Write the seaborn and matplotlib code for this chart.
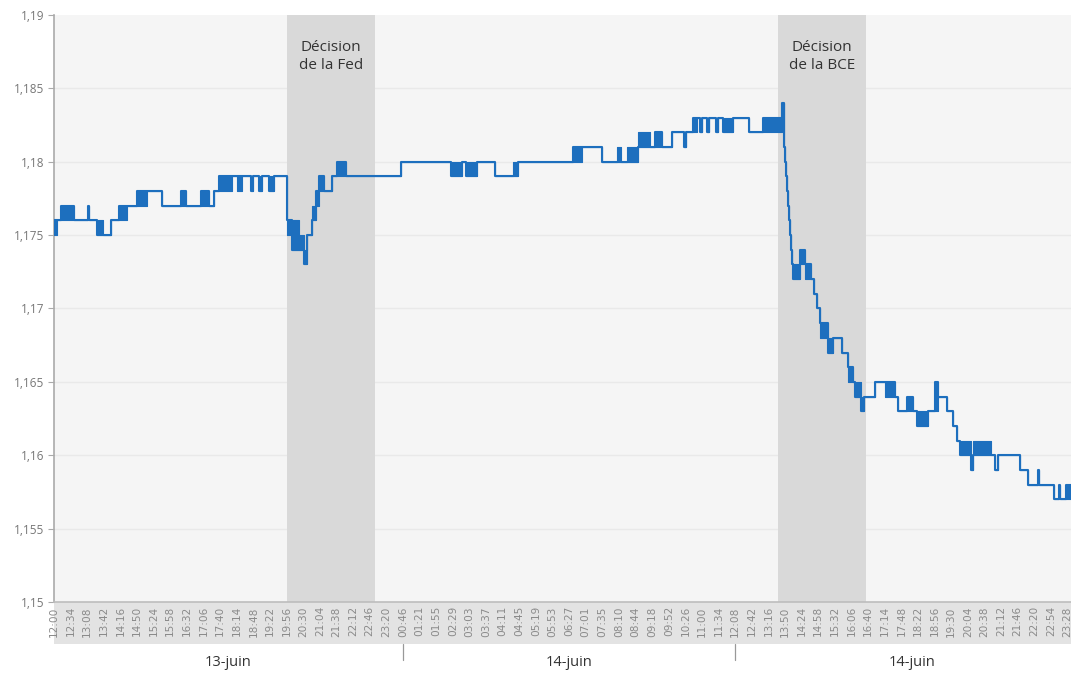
import numpy as np
import pandas as pd
import matplotlib
matplotlib.use("Agg")
import matplotlib.pyplot as plt
import seaborn as sns

# ---------------- data ----------------
# step segments: start (minute index on the categorical time axis), level, other level reached (flicker)
seg_start = [0, 6, 14, 41, 70, 72, 88, 100, 117, 133, 150, 170, 190, 221, 260, 270, 301, 317, 328, 338,
             365, 375, 385, 403, 408, 420, 426, 440, 451, 477, 487, 502, 512, 518, 528, 537, 543, 553, 569, 580,
             598, 711, 813, 834, 844, 866, 903, 940, 950, 1061, 1081, 1122, 1151, 1161, 1172, 1194, 1219, 1229,
             1245, 1264, 1290, 1293, 1307, 1315, 1321, 1325, 1337, 1341, 1354, 1358, 1368, 1389, 1423, 1450,
             1489, 1493, 1495, 1497, 1499, 1501, 1504, 1506, 1509, 1511, 1513, 1526, 1536, 1550, 1556, 1561,
             1567, 1583, 1593, 1612, 1624, 1634, 1640, 1652, 1658, 1679, 1700, 1720, 1726, 1745, 1757, 1765,
             1788, 1802, 1808, 1827, 1839, 1847, 1853, 1876, 1880, 1917, 1925, 1931, 1976, 1993, 2013, 2016,
             2046, 2056, 2059, 2071]
seg_level = [1.176, 1.176, 1.177, 1.176, 1.177, 1.176, 1.175, 1.175, 1.176, 1.177, 1.177, 1.178, 1.178, 1.177,
             1.178, 1.177, 1.178, 1.177, 1.178, 1.179, 1.179, 1.179, 1.179, 1.178, 1.179, 1.178, 1.179, 1.178,
             1.179, 1.176, 1.174, 1.174, 1.173, 1.175, 1.176, 1.178, 1.179, 1.178, 1.179, 1.180, 1.179, 1.180,
             1.179, 1.180, 1.179, 1.180, 1.179, 1.179, 1.180, 1.181, 1.181, 1.180, 1.180, 1.180, 1.180, 1.181,
             1.181, 1.182, 1.181, 1.182, 1.181, 1.182, 1.183, 1.183, 1.182, 1.183, 1.182, 1.183, 1.182, 1.183,
             1.182, 1.183, 1.182, 1.183, 1.184, 1.181, 1.180, 1.179, 1.178, 1.177, 1.176, 1.175, 1.174, 1.173,
             1.172, 1.174, 1.173, 1.172, 1.171, 1.170, 1.169, 1.167, 1.168, 1.167, 1.166, 1.165, 1.164, 1.163,
             1.164, 1.165, 1.165, 1.164, 1.163, 1.164, 1.163, 1.162, 1.163, 1.165, 1.164, 1.163, 1.162, 1.161,
             1.160, 1.159, 1.160, 1.160, 1.159, 1.160, 1.159, 1.158, 1.159, 1.158, 1.157, 1.158, 1.157, 1.158]
seg_alt = [1.175, 1.176, 1.176, 1.176, 1.177, 1.176, 1.176, 1.175, 1.176, 1.176, 1.177, 1.177, 1.178, 1.177,
           1.177, 1.177, 1.177, 1.177, 1.178, 1.178, 1.179, 1.178, 1.179, 1.179, 1.179, 1.179, 1.179, 1.179,
           1.179, 1.175, 1.176, 1.175, 1.174, 1.175, 1.177, 1.177, 1.178, 1.178, 1.179, 1.179, 1.179, 1.180,
           1.180, 1.180, 1.180, 1.180, 1.179, 1.180, 1.180, 1.180, 1.181, 1.180, 1.181, 1.180, 1.181, 1.182,
           1.181, 1.181, 1.181, 1.182, 1.181, 1.182, 1.182, 1.183, 1.182, 1.183, 1.182, 1.183, 1.182, 1.183,
           1.183, 1.183, 1.182, 1.182, 1.184, 1.181, 1.180, 1.179, 1.178, 1.177, 1.176, 1.175, 1.174, 1.173,
           1.173, 1.173, 1.172, 1.172, 1.171, 1.170, 1.168, 1.168, 1.168, 1.167, 1.165, 1.165, 1.165, 1.164,
           1.164, 1.165, 1.164, 1.164, 1.163, 1.163, 1.163, 1.163, 1.163, 1.163, 1.164, 1.163, 1.162, 1.161,
           1.161, 1.159, 1.161, 1.160, 1.159, 1.160, 1.159, 1.158, 1.159, 1.158, 1.157, 1.158, 1.157, 1.157]
series_end = 2082

time_labels = ["12:00", "12:34", "13:08", "13:42", "14:16", "14:50", "15:24", "15:58", "16:32", "17:06",
               "17:40", "18:14", "18:48", "19:22", "19:56", "20:30", "21:04", "21:38", "22:12", "22:46",
               "23:20", "00:46", "01:21", "01:55", "02:29", "03:03", "03:37", "04:11", "04:45", "05:19",
               "05:53", "06:27", "07:01", "07:35", "08:10", "08:44", "09:18", "09:52", "10:26", "11:00",
               "11:34", "12:08", "12:42", "13:16", "13:50", "14:24", "14:58", "15:32", "16:06", "16:40",
               "17:14", "17:48", "18:22", "18:56", "19:30", "20:04", "20:38", "21:12", "21:46", "22:20",
               "22:54", "23:28"]
label_step = 34

y_ticks = [1.15, 1.155, 1.16, 1.165, 1.17, 1.175, 1.18, 1.185, 1.19]
y_tick_labels = ["1,15", "1,155", "1,16", "1,165", "1,17", "1,175", "1,18", "1,185", "1,19"]

day_labels = ["13-juin", "14-juin", "14-juin"]
day_bounds = [0, 714, 1394, 2116]

events = ["Décision\nde la Fed", "Décision\nde la BCE"]
event_start = [477, 1481]
event_end = [657, 1661]

# ---------------- figure ----------------
sns.set_theme(style="white")
plt.rcParams["font.family"] = ["Open Sans", "DejaVu Sans"]

fig = plt.figure(figsize=(10.71, 6.73), dpi=100)
ax = fig.add_axes([54 / 1071, 1 - 602 / 673, 1 - 54 / 1071, (602 - 15) / 673])
ax.set_facecolor("#f5f5f5")

line_color = "#1d6fbe"

# grid lines
for yt in y_ticks[1:-1]:
    ax.axhline(yt, color="#e9e9e9", lw=1.0, zorder=0.5)

# event shading
for s, e, t in zip(event_start, event_end, events):
    ax.axvspan(s, e, color="#d9d9d9", lw=0, zorder=1)
    ax.text((s + e) / 2, 1.18715, t, ha="center", va="center", fontsize=11,
            color="#333333", linespacing=1.3, zorder=4)

# step line
xs = np.array(seg_start + [series_end])
ys = np.array(seg_level + [seg_level[-1]])
lo = np.minimum(np.array(seg_level), np.array(seg_alt))
hi = np.maximum(np.array(seg_level), np.array(seg_alt))
lo = np.append(lo, lo[-1])
hi = np.append(hi, hi[-1])
df = pd.DataFrame({"minute": xs, "price": ys})
sns.lineplot(data=df, x="minute", y="price", ax=ax, color=line_color, lw=1.5,
             drawstyle="steps-post", zorder=3, sort=False)
ax.fill_between(xs, lo, hi, step="post", color=line_color, lw=0.8, zorder=3)

ax.set_xlim(0, 2081)
ax.set_ylim(1.15, 1.19)
ax.set_xlabel("")
ax.set_ylabel("")

# y axis
ax.set_yticks(y_ticks)
ax.set_yticklabels(y_tick_labels)
ax.tick_params(axis="y", length=4, width=0.8, color="#aaaaaa", labelcolor="#777777",
               labelsize=8.5, pad=3, left=True)

# x axis
ax.set_xticks([i * label_step for i in range(len(time_labels))])
ax.set_xticklabels(time_labels, rotation=90, fontsize=7.6, color="#8a8a8a",
                   family=["DejaVu Sans"])
ax.tick_params(axis="x", length=0, pad=3)

for side in ["top", "right"]:
    ax.spines[side].set_visible(False)
ax.spines["left"].set_color("#aaaaaa")
ax.spines["left"].set_linewidth(1.2)
ax.spines["bottom"].set_color("#bdbdbd")
ax.spines["bottom"].set_linewidth(1.2)

# label strip under the axis
strip = plt.Rectangle((0, -0.071), 1, 0.071, transform=ax.transAxes, color="#e3e3e3",
                      lw=0, clip_on=False, zorder=0)
ax.add_patch(strip)

# day groups
for i, lab in enumerate(day_labels):
    mid = (day_bounds[i] + day_bounds[i + 1]) / 2
    ax.text(mid, -0.103, lab, transform=ax.get_xaxis_transform(), ha="center", va="center",
            fontsize=10.5, color="#333333", clip_on=False)
for b in day_bounds[1:-1]:
    ax.plot([b, b], [-0.071, -0.098], transform=ax.get_xaxis_transform(), color="#999999",
            lw=0.9, clip_on=False)

fig.savefig("out.png", dpi=100, facecolor="white")
